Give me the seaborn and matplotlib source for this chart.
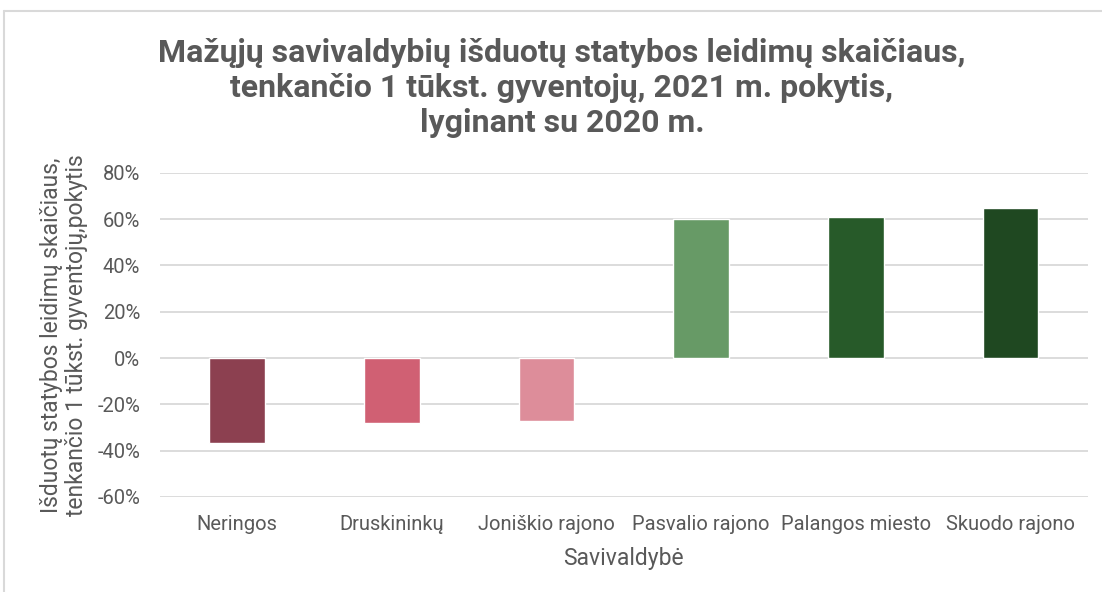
import matplotlib
matplotlib.use("Agg")
import matplotlib.pyplot as plt
import matplotlib.ticker as mticker
import pandas as pd
import seaborn as sns

# duomenys
savivaldybes = ["Neringos", "Druskininkų", "Joniškio rajono",
                "Pasvalio rajono", "Palangos miesto", "Skuodo rajono"]
pokytis = [-0.365, -0.28, -0.27, 0.60, 0.61, 0.65]
spalvos = ["#8C4050", "#D06073", "#DD8D9A", "#679A66", "#275A29", "#1F4821"]

GRAY = "#595959"

sns.set_theme(style="white")
plt.rcParams["font.family"] = ["Roboto", "DejaVu Sans"]

df = pd.DataFrame({"Savivaldybė": savivaldybes, "pokytis": pokytis})

fig = plt.figure(figsize=(11.02, 5.92), dpi=100)
ax = fig.add_axes([0.145, 0.1605, 0.842, 0.5475])

sns.barplot(data=df, x="Savivaldybė", y="pokytis", hue="Savivaldybė",
            palette=spalvos, width=0.36, legend=False, ax=ax, saturation=1)

ax.set_ylim(-0.6, 0.8)
ax.set_yticks([-0.6, -0.4, -0.2, 0, 0.2, 0.4, 0.6, 0.8])
ax.yaxis.set_major_formatter(mticker.FuncFormatter(lambda v, _: f"{v * 100:.0f}%"))
ax.grid(True, axis="y", color="#D9D9D9", linewidth=1.3)
ax.set_axisbelow(True)
sns.despine(ax=ax, left=True, bottom=True, top=True, right=True)
ax.tick_params(axis="both", length=0, labelsize=14.5, labelcolor=GRAY)
ax.tick_params(axis="x", pad=13)
ax.tick_params(axis="y", pad=14)

ax.set_xlabel("Savivaldybė", fontsize=16.5, color=GRAY, labelpad=9)
ax.set_ylabel("Išduotų statybos leidimų skaičiaus,\ntenkančio 1 tūkst. gyventojų,pokytis",
              fontsize=16.5, color=GRAY, labelpad=7, linespacing=1.1)

fig.text(0.51, 0.851,
         "Mažųjų savivaldybių išduotų statybos leidimų skaičiaus,\n"
         "tenkančio 1 tūkst. gyventojų, 2021 m. pokytis,\n"
         "lyginant su 2020 m.",
         ha="center", va="center", fontsize=23, fontweight="bold",
         color=GRAY, linespacing=1.2)

# rėmelis
fig.add_artist(plt.Line2D([0.004, 1.0], [0.982, 0.982], color="#D9D9D9", linewidth=1.5,
                          transform=fig.transFigure))
fig.add_artist(plt.Line2D([0.004, 0.004], [0.0, 0.982], color="#D9D9D9", linewidth=1.5,
                          transform=fig.transFigure))

fig.savefig("out.png", dpi=100)
plt.close(fig)
